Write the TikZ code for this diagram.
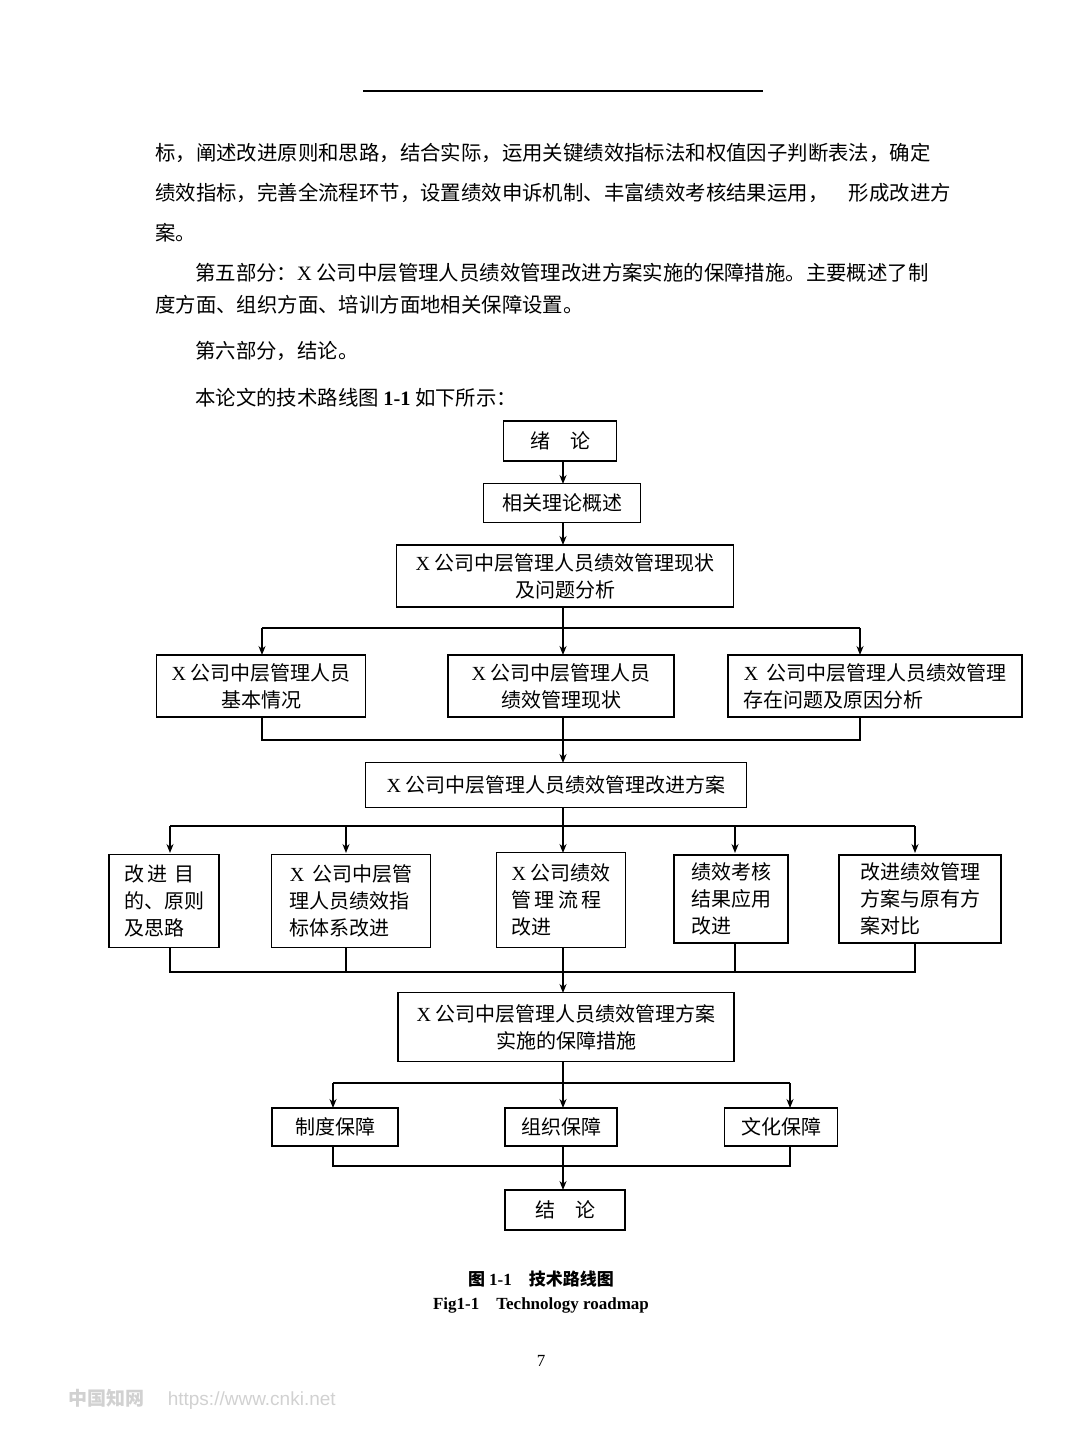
\documentclass[tikz,border=0pt]{standalone}
\usepackage{fontspec}
\setmainfont{Noto Sans CJK SC}
\newfontfamily\lat{Liberation Serif}
\usetikzlibrary{arrows.meta}
\begin{document}
\begin{tikzpicture}[x=1pt,y=-1pt,
  bx/.style={draw,line width=1.4pt,inner sep=0pt,font=\fontsize{20}{27}\selectfont,align=center},
  ln/.style={line width=1.4pt},
  ar/.style={line width=1.4pt,-{Stealth[length=9pt,width=7pt]}},
  para/.style={anchor=west,inner sep=0pt,font=\fontsize{20.4}{24}\selectfont}]
\useasboundingbox (0,0) rectangle (1080,1440);
\draw[line width=1.2pt] (363,91) coordinate(tl) -- (763,91) coordinate(tr);
\node[para] (p1) at (155,153) {标，阐述改进原则和思路，结合实际，运用关键绩效指标法和权值因子判断表法，确定};
\node[para] (p2) at (155,193) {绩效指标，完善全流程环节，设置绩效申诉机制、丰富绩效考核结果运用，\quad 形成改进方};
\node[para] (p3) at (155,233) {案。};
\node[para] (p4) at (195,273) {第五部分：{\lat X} 公司中层管理人员绩效管理改进方案实施的保障措施。主要概述了制};
\node[para] (p5) at (155,305) {度方面、组织方面、培训方面地相关保障设置。};
\node[para] (p6) at (195,351) {第六部分，结论。};
\node[para] (p7) at (195,398) {本论文的技术路线图 {\lat\bfseries 1-1} 如下所示：};

\node[bx,minimum width=113pt,minimum height=40pt] (a) at (560,441) {绪\quad 论};
\node[bx,minimum width=157pt,minimum height=39pt] (b) at (562,503) {相关理论概述};
\node[bx,minimum width=337pt,minimum height=62pt] (c) at (565,576) {{\lat X} 公司中层管理人员绩效管理现状\\及问题分析};
\node[bx,minimum width=209pt,minimum height=62pt] (d1) at (261,686) {{\lat X} 公司中层管理人员\\基本情况};
\node[bx,minimum width=226pt,minimum height=62pt] (d2) at (561,686) {{\lat X} 公司中层管理人员\\绩效管理现状};
\node[bx,minimum width=294pt,minimum height=62pt,align=left] (d3) at (875,686) {{\lat X}\, 公司中层管理人员绩效管理\\存在问题及原因分析};
\node[bx,minimum width=381pt,minimum height=45pt] (e) at (556,785) {{\lat X} 公司中层管理人员绩效管理改进方案};
\node[bx,minimum width=110pt,minimum height=93pt,align=left] (f1) at (164,901) {改\,进\,\,目\\的、原则\\及思路};
\node[bx,minimum width=159pt,minimum height=93pt,align=left] (f2) at (351,901) {{\lat X}\, 公司中层管\\理人员绩效指\\标体系改进};
\node[bx,minimum width=129pt,minimum height=95pt,align=left] (f3) at (561,900) {{\lat X} 公司绩效\\管\,理\,流\,程\\改进};
\node[bx,minimum width=114pt,minimum height=88pt,align=left] (f4) at (731,899) {绩效考核\\结果应用\\改进};
\node[bx,minimum width=162pt,minimum height=88pt,align=left] (f5) at (920,899) {改进绩效管理\\方案与原有方\\案对比};
\node[bx,minimum width=336pt,minimum height=69pt] (g) at (566,1027) {{\lat X} 公司中层管理人员绩效管理方案\\实施的保障措施};
\node[bx,minimum width=126pt,minimum height=38pt] (h1) at (335,1127) {制度保障};
\node[bx,minimum width=112pt,minimum height=38pt] (h2) at (561,1127) {组织保障};
\node[bx,minimum width=113pt,minimum height=38pt] (h3) at (781,1127) {文化保障};
\node[bx,minimum width=120pt,minimum height=40pt] (k) at (565,1210) {结\quad 论};

\draw[ar] (563,461) -- (563,484);
\draw[ar] (563,523) -- (563,545);
\draw[ln] (563,607) -- (563,628);
\draw[ln] (262,628) -- (860,628);
\draw[ar] (262,628) -- (262,655);
\draw[ar] (563,628) -- (563,655);
\draw[ar] (860,628) -- (860,655);
\draw[ln] (262,717) -- (262,740) -- (860,740) -- (860,717);
\draw[ln] (563,717) -- (563,740);
\draw[ar] (563,740) -- (563,763);
\draw[ln] (563,808) -- (563,826);
\draw[ln] (170,826) -- (915,826);
\foreach \x in {170,346,563,735,915} \draw[ar] (\x,826) -- (\x,853);
\draw[ln] (170,948) -- (170,972) -- (915,972) -- (915,943);
\draw[ln] (346,948) -- (346,972);
\draw[ln] (735,943) -- (735,972);
\draw[ln] (563,948) -- (563,972);
\draw[ar] (563,972) -- (563,993);
\draw[ln] (563,1062) -- (563,1083);
\draw[ln] (333,1083) -- (790,1083);
\foreach \x in {333,563,790} \draw[ar] (\x,1083) -- (\x,1108);
\draw[ln] (333,1146) -- (333,1166) -- (790,1166) -- (790,1146);
\draw[ln] (563,1146) -- (563,1166);
\draw[ar] (563,1166) -- (563,1190);

\node[font=\fontsize{17}{18}\selectfont\bfseries] (cap1) at (541,1279) {图 {\lat 1-1}\quad 技术路线图};
\node[font=\lat\fontsize{17}{18}\selectfont\bfseries] (cap2) at (541,1305) {Fig1-1\quad Technology roadmap};
\node[font=\lat\fontsize{17}{18}\selectfont] (pg) at (541,1361) {7};
\node[anchor=west,text=black!18,font=\fontsize{19}{20}\selectfont] (wm) at (65,1399) {\textbf{中国知网}\quad\ {\fontspec{Liberation Sans}https://www.cnki.net}};
\end{tikzpicture}
\end{document}
